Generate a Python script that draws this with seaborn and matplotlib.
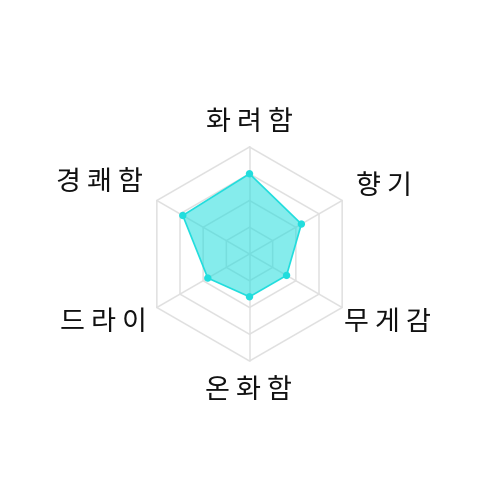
import numpy as np
import pandas as pd
import matplotlib
matplotlib.use("Agg")
import matplotlib.pyplot as plt
import seaborn as sns

# ---- data ----
categories = ["화려함", "향기", "무게감", "온화함", "드라이", "경쾌함"]
values = [75, 56, 40, 40, 45, 72]
grid_levels = [25, 50, 75, 100]
max_value = 100

sns.set_theme(style="white")
plt.rcParams["font.family"] = ["Noto Sans CJK KR", "DejaVu Sans"]

fig = plt.figure(figsize=(5, 5), dpi=100)
ax = fig.add_axes([0, 0, 1, 1])
ax.set_xlim(-249.5, 250.5)
ax.set_ylim(-246, 254)
ax.set_aspect("equal")
ax.axis("off")

R = 107.0  # pixel radius of outer ring
n = len(categories)
angles = np.deg2rad(90 - 360 / n * np.arange(n))

grid_color = "#e0e0e0"
# rings
for lvl in grid_levels:
    r = R * lvl / max_value
    xs = np.append(r * np.cos(angles), r * np.cos(angles[0]))
    ys = np.append(r * np.sin(angles), r * np.sin(angles[0]))
    ax.plot(xs, ys, color=grid_color, lw=1.1, zorder=1)
# spokes
for a in angles:
    ax.plot([0, R * np.cos(a)], [0, R * np.sin(a)], color=grid_color, lw=1.1, zorder=1)

# data polygon
df = pd.DataFrame({"cat": categories, "value": values, "angle": angles})
df["x"] = R * df["value"] / max_value * np.cos(df["angle"])
df["y"] = R * df["value"] / max_value * np.sin(df["angle"])

color = "#22dddd"
ax.fill(df["x"], df["y"], color=color, alpha=0.55, lw=0, zorder=2)
ax.plot(np.append(df["x"], df["x"].iloc[0]), np.append(df["y"], df["y"].iloc[0]),
        color=color, lw=1.2, zorder=3)
sns.scatterplot(data=df, x="x", y="y", ax=ax, color=color, s=28, edgecolor="none",
                zorder=4, legend=False)
ax.set_xlabel("")
ax.set_ylabel("")

# labels
label_pos = {
    0: (0, 132, "center"),
    1: (106, 67, "left"),
    2: (94, -69, "left"),
    3: (-1, -136, "center"),
    4: (-103, -68, "right"),
    5: (-107, 71, "right"),
}
for i, cat in enumerate(categories):
    x, y, ha = label_pos[i]
    ax.text(x, y, " ".join(cat), ha=ha, va="center", fontsize=19.5, color="#111111")

fig.savefig("out.png", dpi=100)
